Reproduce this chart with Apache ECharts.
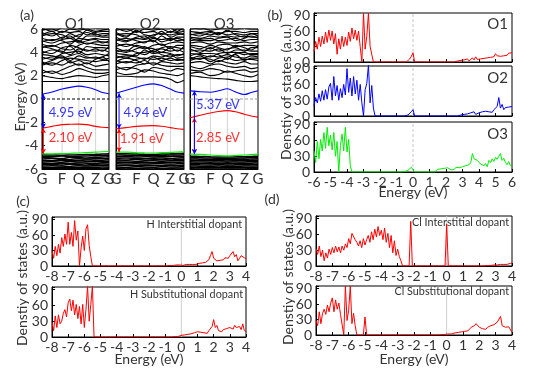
<!DOCTYPE html>
<html><head><meta charset="utf-8">
<script src="https://cdn.jsdelivr.net/npm/echarts@6/dist/echarts.min.js"></script>
<style>html,body{margin:0;padding:0;background:#fff}#c{width:554px;height:368px}</style>
</head><body><div id="c"></div>
<script>
// ---------------- DATA ----------------
// (a) band structures: values at k-points along G-F-Q-Z-G
const kPos = [0, 0.15, 0.3, 0.42, 0.55, 0.67, 0.8, 0.9, 1];
const kTicks = [0, 0.3, 0.55, 0.8, 1];
const kLabels = ['G', 'F', 'Q', 'Z', 'G'];
const bandTitles = ['O1', 'O2', 'O3'];

const condO1 = [
[1.5,1.5,1.5,1.5,1.5,1.5,1.5,1.5,1.5],
[2.0,1.85,1.75,1.9,2.0,1.95,1.85,2.0,2.1],
[2.2,2.4,2.1,2.3,2.6,2.4,2.2,2.2,2.3],
[2.5,2.2,2.5,2.8,3.0,2.7,2.5,2.5,2.5],
[2.9,3.1,2.9,3.2,2.9,3.1,2.8,2.9,3.0],
[3.2,2.9,3.3,3.5,3.4,3.3,3.2,3.3,3.3],
[3.4,3.6,3.7,3.3,3.7,3.5,3.6,3.4,3.5],
[3.6,3.4,3.9,4.0,4.1,3.8,3.9,3.8,3.7],
[3.9,4.2,4.1,3.8,4.3,4.2,4.1,4.2,4.0],
[4.1,3.9,4.4,4.5,3.9,4.5,4.4,4.4,4.3],
[4.4,4.6,4.3,4.2,4.6,4.8,4.7,4.6,4.6],
[4.7,4.5,4.8,4.9,5.0,4.7,4.9,4.9,4.8],
[4.9,5.1,5.0,4.7,5.2,5.1,5.2,5.1,5.1],
[5.2,5.0,5.3,5.4,4.9,5.4,5.4,5.3,5.3],
[5.4,5.6,5.5,5.2,5.5,5.7,5.5,5.6,5.6],
[5.7,5.4,5.8,5.7,5.8,5.5,5.7,5.8,5.8],
[5.9,6.0,5.7,6.0,5.9,6.0,5.8,5.9,6.0],
[6.1,5.8,6.1,6.2,6.1,6.2,6.1,6.1,6.2],
[3.0,3.3,3.6,3.1,3.3,3.0,3.4,3.6,3.2],
[4.5,4.3,4.0,4.6,4.4,4.1,4.3,4.1,4.5],
[5.5,5.8,5.2,5.6,5.3,5.9,5.6,5.4,5.5],
[3.8,3.7,3.5,3.7,3.9,3.6,3.5,3.6,3.9],
[5.0,4.8,5.1,5.2,4.8,5.0,5.1,4.8,5.0]
];
const valO1 = [
[-4.78,-4.8,-4.82,-4.8,-4.78,-4.76,-4.74,-4.72,-4.7],
[-4.9,-4.92,-4.88,-4.95,-4.9,-4.88,-4.86,-4.84,-4.82],
[-5.0,-5.05,-5.1,-5.0,-5.02,-5.05,-5.0,-4.97,-4.95],
[-5.15,-5.1,-5.2,-5.18,-5.12,-5.15,-5.12,-5.1,-5.08],
[-5.28,-5.3,-5.25,-5.3,-5.28,-5.22,-5.25,-5.24,-5.2],
[-5.4,-5.38,-5.42,-5.35,-5.4,-5.38,-5.35,-5.36,-5.34],
[-5.5,-5.55,-5.5,-5.52,-5.48,-5.5,-5.5,-5.47,-5.45],
[-5.62,-5.6,-5.65,-5.6,-5.62,-5.65,-5.6,-5.58,-5.6],
[-5.75,-5.72,-5.75,-5.78,-5.72,-5.75,-5.72,-5.7,-5.72],
[-5.85,-5.88,-5.84,-5.86,-5.88,-5.84,-5.85,-5.83,-5.85],
[-5.97,-5.95,-5.98,-5.95,-5.97,-5.96,-5.98,-5.95,-5.96],
[-6.08,-6.1,-6.06,-6.1,-6.08,-6.06,-6.1,-6.08,-6.08]
];
const blueO1 = [0.4,0.6,0.85,1.0,1.1,1.0,0.8,0.55,0.45];
const redO1 = [-2.5,-2.35,-2.2,-2.17,-2.15,-2.2,-2.35,-2.42,-2.45];
const greenO1 = [-4.7,-4.7,-4.68,-4.66,-4.63,-4.6,-4.56,-4.52,-4.5];
const gapTextO1 = ['4.95 eV', '2.10 eV'];

const condO2 = [
[1.95,1.95,1.9,1.9,1.9,1.85,1.7,1.4,1.6],
[2.3,2.1,2.2,2.5,2.4,2.2,2.1,2.0,2.2],
[2.5,2.7,2.6,2.3,2.7,2.6,2.4,2.6,2.5],
[2.8,2.5,2.9,3.0,3.1,2.9,2.8,2.8,2.8],
[3.0,3.2,3.1,3.3,2.9,3.2,3.1,3.0,3.1],
[3.3,3.1,3.4,3.5,3.4,3.5,3.3,3.4,3.3],
[3.5,3.7,3.6,3.4,3.7,3.6,3.8,3.5,3.6],
[3.7,3.5,3.9,4.0,4.1,3.8,3.6,3.8,3.8],
[4.0,4.2,4.0,3.8,4.2,4.3,4.1,4.2,4.0],
[4.2,4.0,4.3,4.5,4.0,4.4,4.5,4.4,4.3],
[4.5,4.7,4.5,4.3,4.6,4.7,4.3,4.6,4.6],
[4.8,4.5,4.8,4.9,5.0,4.6,4.8,4.9,4.8],
[5.0,5.2,5.0,4.8,5.2,5.1,5.2,5.0,5.1],
[5.3,5.0,5.3,5.4,4.9,5.4,5.0,5.3,5.3],
[5.5,5.6,5.5,5.2,5.5,5.6,5.5,5.6,5.5],
[5.7,5.4,5.8,5.7,5.8,5.5,5.8,5.7,5.8],
[5.9,6.0,5.7,6.0,5.9,6.0,5.7,6.0,5.9],
[6.1,5.8,6.1,6.2,6.1,6.2,6.1,5.8,6.2],
[3.2,3.5,3.3,3.0,3.6,3.3,3.5,3.3,3.4],
[4.4,4.1,4.6,4.4,4.3,4.0,4.4,4.1,4.5],
[5.6,5.3,5.9,5.5,5.4,5.8,5.3,5.5,5.6],
[3.9,3.8,3.7,4.2,3.9,4.0,3.9,3.7,3.9],
[5.1,4.9,5.2,5.1,5.3,4.9,5.1,5.2,5.0]
];
const valO2 = [
[-4.68,-4.7,-4.72,-4.74,-4.75,-4.72,-4.7,-4.68,-4.65],
[-4.8,-4.82,-4.85,-4.83,-4.86,-4.84,-4.8,-4.8,-4.78],
[-4.95,-4.92,-4.98,-4.95,-4.97,-4.95,-4.93,-4.9,-4.92],
[-5.08,-5.05,-5.1,-5.12,-5.08,-5.06,-5.1,-5.05,-5.03],
[-5.2,-5.22,-5.18,-5.24,-5.2,-5.2,-5.22,-5.18,-5.16],
[-5.32,-5.3,-5.35,-5.32,-5.3,-5.34,-5.3,-5.3,-5.28],
[-5.45,-5.42,-5.46,-5.44,-5.47,-5.44,-5.42,-5.43,-5.4],
[-5.56,-5.58,-5.55,-5.58,-5.56,-5.55,-5.58,-5.55,-5.54],
[-5.7,-5.68,-5.72,-5.68,-5.7,-5.72,-5.68,-5.7,-5.67],
[-5.82,-5.84,-5.8,-5.83,-5.84,-5.8,-5.83,-5.82,-5.8],
[-5.94,-5.92,-5.96,-5.93,-5.92,-5.96,-5.94,-5.92,-5.94],
[-6.05,-6.08,-6.04,-6.07,-6.05,-6.04,-6.08,-6.05,-6.06]
];
const blueO2 = [0.5,0.75,1.0,1.2,1.3,1.15,0.85,0.6,0.5];
const redO2 = [-2.55,-2.45,-2.35,-2.3,-2.28,-2.33,-2.45,-2.55,-2.6];
const greenO2 = [-4.55,-4.56,-4.6,-4.62,-4.63,-4.6,-4.58,-4.55,-4.52];
const gapTextO2 = ['4.94 eV', '1.91 eV'];

const condO3 = [
[2.0,1.9,1.8,1.75,1.7,1.6,1.5,1.5,1.55],
[2.2,2.3,2.0,2.1,2.4,2.2,2.0,1.9,2.1],
[2.5,2.4,2.6,2.5,2.3,2.4,2.5,2.3,2.4],
[2.8,2.6,2.9,3.0,2.8,2.7,2.8,2.6,2.7],
[3.1,3.2,3.0,3.3,3.1,3.0,3.2,3.0,3.0],
[3.3,3.5,3.4,3.2,3.5,3.3,3.4,3.4,3.3],
[3.6,3.4,3.7,3.6,3.8,3.6,3.5,3.7,3.6],
[3.9,3.8,3.6,3.9,4.0,4.0,3.8,3.9,3.9],
[4.1,4.2,4.1,4.3,3.9,4.2,4.2,4.1,4.1],
[4.3,4.0,4.4,4.1,4.3,4.4,4.1,4.4,4.4],
[4.6,4.5,4.3,4.6,4.7,4.5,4.6,4.6,4.5],
[4.8,4.9,4.7,4.9,4.8,4.8,4.9,4.8,4.9],
[5.0,5.1,5.2,5.0,5.1,5.2,5.0,5.1,5.1],
[5.3,5.2,5.4,5.3,5.4,5.3,5.4,5.3,5.3],
[5.5,5.6,5.5,5.7,5.5,5.6,5.5,5.6,5.6],
[5.8,5.7,5.8,5.6,5.8,5.8,5.7,5.8,5.8],
[6.0,6.1,5.9,6.0,6.1,6.0,6.1,6.0,6.0],
[6.2,6.0,6.2,6.3,6.2,6.2,6.2,6.2,6.2],
[3.4,3.7,3.2,3.5,3.6,3.8,3.3,3.5,3.5],
[4.5,4.3,4.6,4.4,4.2,4.6,4.4,4.2,4.6],
[5.6,5.4,5.7,5.5,5.9,5.5,5.3,5.6,5.4],
[3.7,3.9,3.9,3.8,3.4,3.9,4.0,3.8,3.8],
[5.2,5.0,5.0,5.2,5.3,5.0,5.2,5.4,5.2]
];
const valO3 = [
[-4.9,-4.92,-4.95,-4.97,-4.98,-4.96,-4.94,-4.92,-4.9],
[-5.02,-5.04,-5.06,-5.08,-5.1,-5.08,-5.05,-5.03,-5.01],
[-5.14,-5.16,-5.18,-5.17,-5.2,-5.18,-5.16,-5.15,-5.13],
[-5.26,-5.28,-5.3,-5.28,-5.31,-5.29,-5.27,-5.26,-5.25],
[-5.38,-5.4,-5.42,-5.4,-5.42,-5.4,-5.39,-5.38,-5.37],
[-5.5,-5.52,-5.53,-5.52,-5.54,-5.52,-5.51,-5.5,-5.49],
[-5.62,-5.64,-5.65,-5.63,-5.66,-5.64,-5.63,-5.62,-5.61],
[-5.74,-5.76,-5.77,-5.75,-5.77,-5.76,-5.75,-5.74,-5.73],
[-5.86,-5.88,-5.89,-5.87,-5.89,-5.88,-5.87,-5.86,-5.85],
[-5.98,-6.0,-6.01,-5.99,-6.01,-6.0,-5.99,-5.98,-5.97],
[-6.1,-6.12,-6.13,-6.11,-6.13,-6.12,-6.11,-6.1,-6.09]
];
const blueO3 = [0.7,0.62,0.58,0.7,0.88,0.6,0.38,0.55,0.7];
const redO3 = [-1.6,-1.4,-1.2,-1.07,-1.0,-1.1,-1.3,-1.45,-1.55];
const greenO3 = [-4.72,-4.75,-4.8,-4.85,-4.88,-4.85,-4.8,-4.76,-4.72];
const gapTextO3 = ['5.37 eV', '2.85 eV'];

// (b) DOS of O1, O2, O3 on grid -6.0 ... 6.0 eV, step 0.1
const dosO1 = [
20,40,25,48,30,50,35,58,38,62,
42,60,35,55,15,45,25,50,30,48,
32,58,40,66,45,62,42,60,30,0,
95,25,50,95,30,15,0,0,0,0,
0,0,0,0,0,0,0,0,0,0,
0,0,0,0,0,0,0,2,6,11,
18,0,0,0,0,0,0,0,0,0,
0,0,0,0,0,0,0,0,0,0,
0,0,0,0,0,0,1,2,1,3,
2,4,3,6,2,5,8,4,10,5,
7,6,8,7,9,8,10,9,12,10,
16,12,15,11,14,12,15,13,17,15,
18];
const dosO2 = [
20,35,25,42,28,48,30,50,32,55,
62,30,75,38,58,30,52,35,60,40,
90,45,72,38,75,42,68,30,60,25,
0,50,62,97,25,58,15,0,0,0,
0,0,0,0,0,0,0,0,0,0,
0,0,0,0,0,0,0,2,5,8,
12,0,0,0,0,0,0,0,0,0,
0,0,0,0,0,0,0,0,0,0,
0,0,0,0,0,0,0,0,1,2,
1,3,2,4,3,6,4,8,3,5,
6,4,8,5,9,7,8,10,7,12,
10,18,35,15,22,12,16,13,17,14,
18];
const dosO3 = [
40,18,58,25,62,40,75,45,85,50,
70,42,75,30,58,0,50,72,40,85,
38,62,12,0,0,0,0,0,0,0,
0,0,0,0,0,0,0,0,0,0,
0,0,0,0,0,0,0,0,0,0,
0,0,0,0,0,1,2,3,6,9,
12,0,0,0,0,0,0,0,0,0,
0,0,0,0,2,5,3,6,4,7,
5,8,6,4,7,5,9,6,8,7,
10,8,12,9,14,18,35,25,28,22,
20,15,18,12,16,10,22,18,25,20,
28,24,30,35,22,26,18,14,20,12,
10];

// (c),(d) DOS of dopants on grid -8.0 ... 4.0 eV, step 0.1
const dosHInt = [
30,15,38,20,42,25,55,38,62,42,
85,42,65,38,88,50,68,0,35,58,
30,72,80,40,18,0,0,0,0,0,
0,0,0,0,0,0,0,0,0,0,
0,0,0,0,0,0,0,0,0,0,
0,0,0,0,0,0,0,0,0,0,
0,0,0,0,0,0,0,0,0,0,
0,0,0,1,0,1,1,2,1,2,
2,1,2,3,2,3,4,3,4,3,
4,5,4,6,8,7,10,12,20,28,
15,12,10,13,11,14,12,16,18,15,
20,22,28,18,22,10,15,20,18,16,
14];
const dosHSub = [
28,12,40,18,42,25,30,45,52,38,
65,72,50,70,42,62,35,58,25,62,
18,52,97,30,62,97,0,0,0,0,
0,0,0,0,0,0,0,0,0,0,
0,0,0,0,0,0,0,0,0,0,
0,0,0,0,0,0,0,0,0,0,
0,0,0,0,0,0,0,0,0,0,
0,0,0,1,0,1,1,2,1,2,
3,2,4,3,5,4,6,5,8,6,
10,7,9,12,8,10,7,12,15,20,
33,18,22,12,15,10,14,12,16,15,
18,20,15,22,18,16,20,14,25,12,
10];
const dosClInt = [
33,22,38,18,30,10,25,15,32,22,
35,25,38,27,36,25,38,30,42,35,
52,42,62,63,50,45,38,48,35,52,
40,50,58,45,65,50,70,55,75,58,
68,50,72,45,62,35,58,25,48,20,
32,18,10,0,0,0,0,0,85,0,
0,0,0,0,0,0,0,0,0,0,
0,0,0,0,0,0,0,0,0,0,
80,0,0,0,0,0,0,0,0,0,
0,0,0,0,0,0,0,0,0,0,
0,0,0,0,0,1,0,1,1,2,
1,2,2,3,2,3,4,3,4,5,
5];
const dosClSub = [
28,18,45,22,42,50,40,58,45,62,
72,45,68,50,62,40,42,0,95,28,
48,95,22,42,18,0,0,0,0,0,
35,0,0,0,0,0,0,0,0,0,
0,0,0,0,0,0,0,0,0,0,
0,0,0,0,0,0,0,0,0,0,
0,0,0,0,0,0,0,0,0,0,
0,0,0,0,1,0,1,1,2,1,
2,2,3,2,3,4,3,5,4,6,
5,7,6,8,10,15,12,18,22,20,
15,18,12,14,11,15,13,18,16,20,
22,25,28,36,18,20,15,18,16,14,
5];
const dosTitlesB = ['O1', 'O2', 'O3'];
const dosTitlesC = ['H Interstitial dopant', 'H Substitutional dopant'];
const dosTitlesD = ['Cl Interstitial dopant', 'Cl Substitutional dopant'];

// ---------------- LAYOUT / STYLE ----------------
const FONT = 'Lato, "DejaVu Sans", sans-serif';
const TXT = '#333';
const RED = '#ff0000', BLUE = '#0000ff', GREEN = '#00ee00';
const bandLayout = [
  {left: 42, top: 29, width: 67, height: 140, arrowK: 0.02, zeroColor: '#000', txt: [[0.1, -1.2], [0.1, -3.35]]},
  {left: 116, top: 29, width: 68, height: 140, arrowK: 0.045, zeroColor: '#999', txt: [[0.11, -1.2], [0.06, -3.4]]},
  {left: 190, top: 29, width: 68, height: 140, arrowK: 0.065, zeroColor: '#999', txt: [[0.09, -0.5], [0.09, -3.35]], fullBlue: true}
];
const dosLayout = [
  {left: 314, top: 13, width: 198, height: 49, labels: false, range: [-6, 6], dash: true},
  {left: 314, top: 66, width: 198, height: 50, labels: false, range: [-6, 6], dash: true},
  {left: 314, top: 122, width: 198, height: 50, labels: true, range: [-6, 6], dash: true},
  {left: 52, top: 217, width: 194, height: 49, labels: true, range: [-8, 4]},
  {left: 52, top: 287, width: 194, height: 50, labels: true, range: [-8, 4]},
  {left: 316, top: 216, width: 196, height: 50, labels: true, range: [-8, 4]},
  {left: 316, top: 286, width: 196, height: 49, labels: true, range: [-8, 4]}
];
const DOS_MAX = 95;

const bandSets = [
  {cond: condO1, val: valO1, blue: blueO1, red: redO1, green: greenO1, gap: gapTextO1},
  {cond: condO2, val: valO2, blue: blueO2, red: redO2, green: greenO2, gap: gapTextO2},
  {cond: condO3, val: valO3, blue: blueO3, red: redO3, green: greenO3, gap: gapTextO3}
];
const eB = Array.from({length: 121}, (_, i) => +(-6 + i * 0.1).toFixed(1));
const eCD = Array.from({length: 121}, (_, i) => +(-8 + i * 0.1).toFixed(1));
const dosSets = [
  {e: eB, v: dosO1, c: RED}, {e: eB, v: dosO2, c: BLUE}, {e: eB, v: dosO3, c: GREEN},
  {e: eCD, v: dosHInt, c: RED}, {e: eCD, v: dosHSub, c: RED},
  {e: eCD, v: dosClInt, c: RED}, {e: eCD, v: dosClSub, c: RED}
];

const grids = [], xAxes = [], yAxes = [], series = [];
const axLine = {show: true, onZero: false, lineStyle: {color: '#000', width: 1}};
function seg(gi, pts, style, z, extra) {
  return Object.assign({type: 'line', xAxisIndex: gi, yAxisIndex: gi, symbol: 'none', silent: true, animation: false,
    data: pts, lineStyle: style, itemStyle: {color: style.color}, z: z}, extra || {});
}

bandLayout.forEach((L, p) => {
  const gi = grids.length;
  grids.push({left: L.left, top: L.top, width: L.width, height: L.height, show: true, borderColor: '#000', borderWidth: 1});
  xAxes.push({type: 'value', gridIndex: gi, min: 0, max: 1, interval: 0.05,
    axisLine: axLine, axisTick: {show: false}, splitLine: {show: false},
    axisLabel: {show: true, fontSize: 15, color: TXT, fontFamily: FONT, margin: 3, hideOverlap: false,
      formatter: v => { const i = kTicks.findIndex(k => Math.abs(k - v) < 1e-6); return i >= 0 ? kLabels[i] : ''; }}});
  yAxes.push({type: 'value', gridIndex: gi, min: -6, max: 6, interval: 2,
    axisLine: axLine, splitLine: {show: false},
    axisTick: {show: p === 0, inside: true, length: 3, lineStyle: {color: '#000'}},
    axisLabel: {show: p === 0, fontSize: 14, color: TXT, fontFamily: FONT, margin: 4}});
  const S = bandSets[p];
  // k-point gridlines
  kTicks.slice(1, 4).forEach(k => series.push(seg(gi, [[k, -6], [k, 6]], {color: '#d4d4d4', width: 1}, 1)));
  S.cond.forEach(b => {
    series.push(seg(gi, kPos.map((k, j) => [k, b[j]]), {color: '#000', width: 1.1}, 2, {smooth: 0.3}));
  });
  S.val.forEach(b => {
    series.push(seg(gi, kPos.map((k, j) => [k, b[j]]), {color: '#000', width: 1.5}, 2, {smooth: 0.3}));
  });
  // Fermi level
  series.push(seg(gi, [[0, 0], [1, 0]], {color: L.zeroColor, width: 1, type: [3, 2]}, 3));
  series.push(seg(gi, kPos.map((k, j) => [k, S.green[j]]), {color: GREEN, width: 1.2}, 3, {smooth: 0.3}));
  series.push(seg(gi, kPos.map((k, j) => [k, S.red[j]]), {color: RED, width: 1.1}, 3, {smooth: 0.3}));
  series.push(seg(gi, kPos.map((k, j) => [k, S.blue[j]]), {color: BLUE, width: 1.1}, 4, {smooth: 0.3}));
  // gap arrows
  series.push(seg(gi, [], {color: RED, width: 1}, 5,
    {symbol: 'arrow', symbolSize: [4, 5], showSymbol: true,
     data: [{value: [L.arrowK, S.red[0]], symbolRotate: 0}, {value: [L.arrowK, S.green[0]], symbolRotate: 180}]}));
  const blueEnd = L.fullBlue ? S.green[0] : S.red[0];
  series.push(seg(gi, [], {color: BLUE, width: 1}, 6,
    {symbol: 'arrow', symbolSize: [4, 5], showSymbol: true,
     data: [{value: [L.arrowK, S.blue[0]], symbolRotate: 0}, {value: [L.arrowK, blueEnd], symbolRotate: 180}]}));
  S.gap.forEach((t, q) => {
    series.push({type: 'scatter', xAxisIndex: gi, yAxisIndex: gi, data: [L.txt[q]], symbolSize: 0, silent: true, animation: false, z: 7,
      label: {show: true, position: 'right', distance: 0, formatter: t, color: q === 0 ? BLUE : RED, fontSize: 13, fontFamily: FONT}});
  });
});

dosLayout.forEach((L, p) => {
  const gi = grids.length;
  grids.push({left: L.left, top: L.top, width: L.width, height: L.height, show: true, borderColor: '#000', borderWidth: 1});
  xAxes.push({type: 'value', gridIndex: gi, min: L.range[0], max: L.range[1], interval: 1,
    axisLine: axLine, splitLine: {show: false},
    axisTick: {show: true, inside: true, length: 3, lineStyle: {color: '#000'}},
    axisLabel: {show: L.labels, fontSize: 14, color: TXT, fontFamily: FONT, margin: 3, hideOverlap: false}});
  yAxes.push({type: 'value', gridIndex: gi, min: 0, max: DOS_MAX, interval: 30,
    axisLine: axLine, splitLine: {show: false},
    axisTick: {show: true, inside: true, length: 3, lineStyle: {color: '#000'}},
    axisLabel: {fontSize: 14, color: TXT, fontFamily: FONT, margin: 4, hideOverlap: false, formatter: v => (v % 30 === 0 ? String(v) : '')}});
  const D = dosSets[p];
  series.push(seg(gi, [[0, 0], [0, DOS_MAX]], L.dash ? {color: '#c4c4c4', width: 1, type: [3, 2]} : {color: '#d0d0d0', width: 1}, 2));
  series.push(seg(gi, D.e.map((x, i) => [x, D.v[i]]), {color: D.c, width: 1}, 3));
});

function txt(text, x, y, size, opts) {
  return Object.assign({type: 'text', x: x, y: y, silent: true,
    style: {text: text, fill: TXT, font: size + 'px ' + FONT, align: 'center', verticalAlign: 'middle'}}, opts || {});
}
function rtxt(text, x, y, size) {
  return {type: 'text', x: x, y: y, silent: true, z: 100,
    style: {text: text, fill: TXT, font: size + 'px ' + FONT, align: 'right', verticalAlign: 'middle'}};
}
const rot = {rotation: Math.PI / 2};
const graphics = [
  txt('(a)', 27, 15, 14), txt('(b)', 275, 15, 14), txt('(c)', 23, 201, 14), txt('(d)', 272, 199, 14),
  txt(bandTitles[0], 75, 24, 15), txt(bandTitles[1], 150, 24, 15), txt(bandTitles[2], 224, 24, 15),
  txt('Energy (eV)', 20, 97, 14, rot),
  txt('Denstiy of states (a.u.)', 286, 92, 14, rot),
  txt('Energy (eV)', 413, 192, 14),
  txt('Denstiy of states (a.u.)', 22, 278, 14, rot),
  txt('Energy (eV)', 149, 359, 14),
  txt('Denstiy of states (a.u.)', 288, 277, 14, rot),
  txt('Energy (eV)', 414, 359, 14),
  rtxt(dosTitlesB[0], 508, 24, 15), rtxt(dosTitlesB[1], 508, 78, 15), rtxt(dosTitlesB[2], 508, 134, 15),
  rtxt(dosTitlesC[0], 242, 225, 10.8), rtxt(dosTitlesC[1], 243, 295, 10.8),
  rtxt(dosTitlesD[0], 509, 223, 10.8), rtxt(dosTitlesD[1], 509, 292, 10.8)
];

const chart = echarts.init(document.getElementById('c'), null, {renderer: 'canvas'});
chart.setOption({
  animation: false,
  backgroundColor: '#fff',
  grid: grids, xAxis: xAxes, yAxis: yAxes, series: series,
  graphic: graphics
});
</script></body></html>
